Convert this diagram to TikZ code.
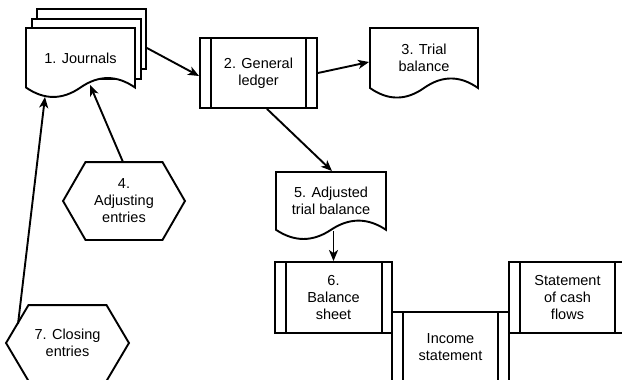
\documentclass[tikz,border=0pt]{standalone}
\usepackage{fontspec}
\setmainfont{Liberation Sans}
\usetikzlibrary{arrows.meta,calc}
\newcommand\docshape[4]{%
  \draw[fill=white,shift={(#1,#2)}] (0,0) -- (#3,0) -- (#3,{0.85*#4})
    .. controls ({0.8333*#3},{0.67*#4}) and ({0.6667*#3},{0.67*#4}) .. ({0.5*#3},{0.85*#4})
    .. controls ({0.3333*#3},{1.03*#4}) and ({0.1667*#3},{1.03*#4}) .. (0,{0.85*#4}) -- cycle;}
\newcommand\hexaround[3]{% node, half width, top half width (half height from node)
  \draw[fill=white] (#1.north) ++(-#3pt,0) -- ++({2*#3},0) -- (#1.east) -- ($(#1.south)+(#3,0)$) -- ($(#1.south)+(-#3,0)$) -- (#1.west) -- cycle;}
\begin{document}
\begin{tikzpicture}[x=1pt,y=-1pt, line width=1.9pt,
  lbl/.style={align=center, font=\fontsize{14.5}{17}\selectfont, inner sep=0pt},
  arr/.style={-{Stealth[length=11pt,width=9pt,inset=3pt]}},
  proc/.style={lbl, draw, rectangle, minimum width=117pt, minimum height=70pt, fill=white},
  stackdoc/.style={draw, fill=white, rectangle, minimum width=109pt, minimum height=60pt, inner sep=0pt}
]
\useasboundingbox (0,0) rectangle (622,380);
\fill[white] (0,0) rectangle (622,380);
\clip (0,0) rectangle (622,380);

% 1. Journals (stack of documents)
\node[stackdoc] (jb) at (91.5,39) {};
\node[stackdoc] (jm) at (86.5,49) {};
\docshape{26}{28}{109}{70}
\node[lbl, minimum width=109pt, minimum height=60pt] (j) at (80.5,58) {1. Journals};

% 2. General ledger
\node[proc] (gl) at (258.5,73) {2. General\\ledger};
\draw ([xshift=12pt]gl.north west) -- ([xshift=12pt]gl.south west);
\draw ([xshift=-12pt]gl.north east) -- ([xshift=-12pt]gl.south east);

% 3. Trial balance
\docshape{370}{28}{108}{70.6}
\node[lbl, minimum width=108pt, minimum height=60pt] (tb) at (424,58) {3. Trial\\balance};

% 5. Adjusted trial balance
\docshape{276}{172}{110}{68}
\node[lbl, minimum width=110pt, minimum height=58pt] (atb) at (331,201) {5. Adjusted\\trial balance};

% 6. Balance sheet
\node[proc, minimum height=71pt] (bs) at (333.5,297.5) {6.\\Balance\\sheet};
\draw ([xshift=12pt]bs.north west) -- ([xshift=12pt]bs.south west);
\draw ([xshift=-11pt]bs.north east) -- ([xshift=-11pt]bs.south east);

% Income statement
\node[proc, minimum height=71pt] (is) at (450.5,347.5) {Income\\statement};
\draw ([xshift=12pt]is.north west) -- ([xshift=12pt]is.south west);
\draw ([xshift=-12pt]is.north east) -- ([xshift=-12pt]is.south east);

% Statement of cash flows
\node[proc, minimum height=71pt] (cf) at (567.5,297.5) {Statement\\of cash\\flows};
\draw ([xshift=12pt]cf.north west) -- ([xshift=12pt]cf.south west);
\draw ([xshift=-12pt]cf.north east) -- ([xshift=-12pt]cf.south east);

% 4. Adjusting entries
\node[lbl, minimum width=120pt, minimum height=76pt] (h4) at (124,201) {};
\hexaround{h4}{60}{38.5}
\node[lbl] at (h4) {4.\\Adjusting\\entries};

% 7. Closing entries
\node[lbl, minimum width=121pt, minimum height=74pt] (h7) at (67.5,343) {};
\hexaround{h7}{60.5}{39}
\node[lbl] at (h7) {7. Closing\\entries};

% connectors
\draw[arr] ([yshift=-9pt]jb.east) -- ([yshift=-3pt]gl.west);
\draw[arr] (gl.east) -- ([yshift=-4pt]tb.west);
\draw[arr] ([xshift=8.5pt]gl.south) -- ([xshift=1pt]atb.north);
\draw[arr] (atb.south -| bs.north) -- (bs.north);
\draw[arr] ([xshift=-1pt]h4.north) -- ([xshift=9.5pt,yshift=4pt]j.south);
\draw[arr] ([xshift=-49.5pt,yshift=19pt]h7.center) -- ([xshift=-35.5pt,yshift=-8pt]j.south);
\end{tikzpicture}
\end{document}
